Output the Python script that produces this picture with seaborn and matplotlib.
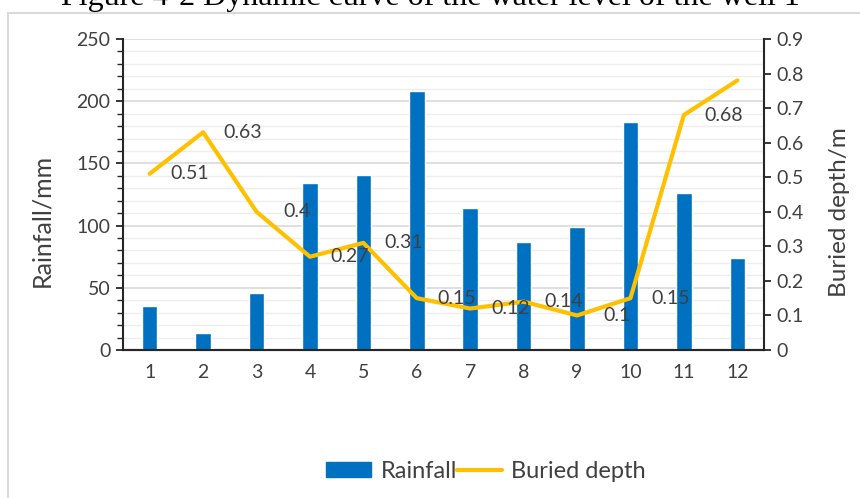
import numpy as np
import pandas as pd
import matplotlib
matplotlib.use("Agg")
import matplotlib.pyplot as plt
from matplotlib.patches import Rectangle, Patch
from matplotlib.lines import Line2D
from matplotlib.ticker import MultipleLocator, FuncFormatter
import seaborn as sns

# Monthly observations for well 1
months = ["1", "2", "3", "4", "5", "6", "7", "8", "9", "10", "11", "12"]
rainfall_mm = [35, 14, 46, 134, 141, 208, 114, 87, 99, 183, 126, 74]
buried_depth_m = [0.51, 0.63, 0.40, 0.27, 0.31, 0.15, 0.12, 0.14, 0.10, 0.15, 0.68, 0.78]
depth_labels = ["0.51", "0.63", "0.4", "0.27", "0.31", "0.15", "0.12", "0.14", "0.1", "0.15", "0.68", ""]

title_text = "Figure 4-2 Dynamic curve of the water level of the well 1"

BAR_BLUE = "#0070C0"
LINE_GOLD = "#FFC000"
TEXT_GRAY = "#404040"

sns.set_theme(style="white")
plt.rcParams["font.family"] = ["Lato", "DejaVu Sans"]

df = pd.DataFrame({"month": months, "rainfall": rainfall_mm,
                   "depth": buried_depth_m, "pos": np.arange(len(months))})

fig = plt.figure(figsize=(8.6, 4.98), dpi=100)
ax = fig.add_axes([123 / 860, 1 - 350 / 498, (764 - 123) / 860, (350 - 39) / 498])

# Chart-area frame (open towards the right and bottom edges)
fig.patches.append(Rectangle((8 / 860, -0.2), 1.2, 1.2 - 13 / 498,
                             transform=fig.transFigure, fill=False,
                             edgecolor="#D9D9D9", linewidth=1.5, zorder=0))

fig.text(0.5, 1 - 5 / 498, title_text, ha="center", va="baseline",
         family="Liberation Serif", fontsize=23, color="black")

sns.barplot(data=df, x="month", y="rainfall", color=BAR_BLUE, width=0.29,
            saturation=1, ax=ax, zorder=3)
ax.set_ylim(0, 250)
ax.yaxis.set_major_locator(MultipleLocator(50))
ax.yaxis.set_minor_locator(MultipleLocator(10))
ax.grid(axis="y", which="major", color="#D9D9D9", linewidth=1.2, zorder=0)
ax.grid(axis="y", which="minor", color="#EDEDED", linewidth=1.0, zorder=0)
ax.set_axisbelow(True)
ax.set_xlabel("")
ax.set_ylabel("Rainfall/mm", fontsize=18, color=TEXT_GRAY)
ax.yaxis.set_label_coords((53 - 123) / (764 - 123), (350 - 220) / (350 - 39))
ax.tick_params(axis="y", which="major", direction="out", length=5, width=1.3,
               color="#262626", labelsize=14, labelcolor=TEXT_GRAY, left=True, pad=4)
ax.tick_params(axis="y", which="minor", left=False)
ax.tick_params(axis="x", length=0, labelsize=14, labelcolor=TEXT_GRAY, pad=10)

ax2 = ax.twinx()
sns.lineplot(data=df, x="pos", y="depth", color=LINE_GOLD, linewidth=3.0,
             ax=ax2, zorder=4)
ax2.set_ylim(0, 0.9)
ax2.yaxis.set_major_locator(MultipleLocator(0.1))
ax2.yaxis.set_major_formatter(FuncFormatter(lambda v, p: f"{v:g}"))
ax2.set_ylabel("Buried depth/m", fontsize=17.5, color=TEXT_GRAY)
ax2.yaxis.set_label_coords((829 - 123) / (764 - 123), (350 - 212) / (350 - 39))
ax2.set_xlabel("")
ax2.tick_params(axis="y", direction="out", length=5, width=1.3, color="#262626",
                labelsize=14, labelcolor=TEXT_GRAY, right=True, pad=4)
ax2.set_xlim(-0.5, len(months) - 0.5)

for a in (ax, ax2):
    a.spines["top"].set_visible(False)
    for s in ("left", "right", "bottom"):
        a.spines[s].set_color("#262626")
        a.spines[s].set_linewidth(1.5)
ax.spines["right"].set_visible(False)
ax2.spines["left"].set_visible(False)

for xpos, val, lab in zip(df["pos"], buried_depth_m, depth_labels):
    if lab:
        ax2.annotate(lab, (xpos, val), xytext=(40, 0), textcoords="offset pixels",
                     ha="center", va="center", fontsize=14, color=TEXT_GRAY,
                     zorder=5)

handles = [Patch(facecolor=BAR_BLUE, edgecolor=BAR_BLUE),
           Line2D([0], [0], color=LINE_GOLD, linewidth=3.0)]
fig.legend(handles, ["Rainfall", "Buried depth"], loc="center",
           bbox_to_anchor=(486 / 860, 1 - 471 / 498), ncol=2, frameon=False,
           fontsize=17, handlelength=1.9, handleheight=0.6, handletextpad=0.4,
           columnspacing=0.0, labelcolor=TEXT_GRAY)

fig.savefig("out.png", dpi=100)
